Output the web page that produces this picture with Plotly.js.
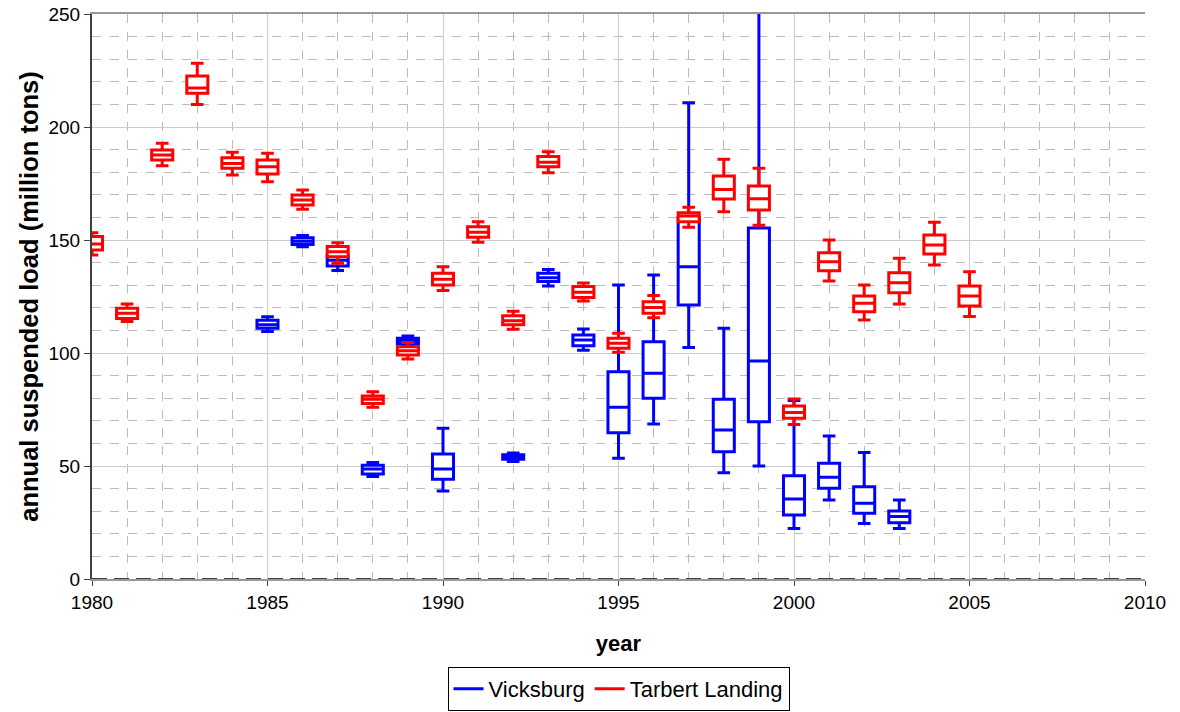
<!DOCTYPE html>
<html>
<head>
<meta charset="utf-8">
<script src="https://cdn.plot.ly/plotly-3.0.1.min.js"></script>
<style>
html,body{margin:0;padding:0;background:#fff;}
#chart{width:1180px;height:712px;}
</style>
</head>
<body>
<div id="chart"></div>
<script>
// ---- data ----
const vYears = [1985,1986,1987,1988,1989,1990,1992,1993,1994,1995,1996,1997,1998,1999,2000,2001,2002,2003];
const vLow   = [109.5,147,136.5,45.3,103,38.9,52,129.6,101.2,53.4,68.6,102.4,47,50,22.4,35,24.6,22.4];
const vQ1    = [111,148,138.5,46.5,104,44.1,53,131.6,103.2,64.7,80,121.2,56.3,69.6,28.3,40.1,29.1,24.9];
const vMed   = [112.5,149.5,141,48.7,105.2,48.7,54,133.3,105.8,76,91,138.2,65.9,96.5,35.4,45,33.5,27.6];
const vQ3    = [114.5,151,143,50.3,106.5,55.3,55,135.3,108,91.7,105,160,79.5,155.3,45.7,51.2,40.8,30.1];
const vHigh  = [116,152,145,51.5,107.5,66.7,55.7,137,110.6,130.1,134.5,210.7,110.9,280,79,63.3,56,35];

const tYears = [1980,1981,1982,1983,1984,1985,1986,1987,1988,1989,1990,1991,1992,1993,1994,1995,1996,1997,1998,1999,2000,2001,2002,2003,2004,2005];
const tLow   = [143.4,113.9,182.9,210,178.8,175.8,163.6,139.7,76,97.3,127.6,149,110.5,179.8,123,100.3,115.6,155.6,162.5,156.5,68.4,131.9,114.6,121.7,138.9,116.1];
const tQ1    = [145.6,115.3,185.4,214.9,181.7,179.2,165.5,142.6,77.7,99.1,130.1,151.2,112.5,182.4,124.6,102.1,117.6,158.1,168.1,163.3,71.1,136.4,118.3,126.7,143.8,120.8];
const tMed   = [148.2,117.6,187.6,217.3,183.9,182.4,167.7,144.8,79.5,101,132.6,153.4,114.3,184.4,126.9,104.3,120.1,160.6,172.4,168.3,73.7,140.4,122,131.1,147.8,125.2];
const tQ3    = [151.5,119.8,189.8,222.6,186.4,185.4,169.9,147.1,81,102.8,135.3,155.9,116.5,186.9,129.4,106.5,122.7,162.1,178.3,173.9,76.5,144.4,125.2,135.5,152.2,129.6];
const tHigh  = [153.2,121.7,192.8,228.2,188.8,188.4,172.1,148.8,82.9,104.6,138.2,158.1,118.5,189.1,131,108.7,125.4,164.5,185.7,181.7,79.6,150,130.1,141.9,157.8,136];

const seriesNames = ['Vicksburg','Tarbert Landing'];
const seriesColors = ['#0000ff','#ff0000'];

const FONT = '"Liberation Sans", Arial, sans-serif';

function boxTrace(name, color, x, lo, q1, med, q3, hi){
  return {
    type:'box', name:name, x:x,
    lowerfence:lo, q1:q1, median:med, q3:q3, upperfence:hi,
    line:{color:color, width:3}, fillcolor:'#ffffff',
    width:0.6, whiskerwidth:0.6, boxpoints:false,
    showlegend:false, hoverinfo:'skip'
  };
}
function legendTrace(name, color){
  return {type:'scatter', mode:'lines', name:name, x:[null], y:[null],
          line:{color:color, width:3}, hoverinfo:'skip'};
}

const data = [
  boxTrace(seriesNames[0], seriesColors[0], vYears, vLow, vQ1, vMed, vQ3, vHigh),
  boxTrace(seriesNames[1], seriesColors[1], tYears, tLow, tQ1, tMed, tQ3, tHigh),
  legendTrace(seriesNames[0], seriesColors[0]),
  legendTrace(seriesNames[1], seriesColors[1])
];

const layout = {
  width:1180, height:712,
  margin:{l:92, r:35, t:14, b:133, pad:0, autoexpand:false},
  paper_bgcolor:'#ffffff', plot_bgcolor:'#ffffff',
  font:{family:FONT, color:'#000000', size:19},
  boxmode:'overlay',
  showlegend:true,
  legend:{orientation:'h', x:0.5, xanchor:'center', yref:'container', y:0.0015, yanchor:'bottom',
          bordercolor:'#000000', borderwidth:1, font:{family:FONT, size:22, color:'#000'},
          itemwidth:30, tracegroupgap:0},
  xaxis:{
    range:[1980,2010], dtick:5, tick0:1980, fixedrange:true,
    showgrid:true, gridcolor:'#cccccc', gridwidth:1,
    minor:{dtick:1, showgrid:true, gridcolor:'#bbbbbb', griddash:'dash', gridwidth:1, ticks:''},
    showline:true, linecolor:'#999999', linewidth:2, mirror:true,
    ticks:'outside', ticklen:5, tickcolor:'#404040', tickwidth:1,
    tickfont:{family:FONT, size:19, color:'#000'},
    zeroline:false, automargin:false,
    title:{text:'year', font:{family:FONT, size:22, color:'#000', weight:'bold'}, standoff:24}
  },
  yaxis:{
    range:[0,250], dtick:50, tick0:0, fixedrange:true,
    showgrid:true, gridcolor:'#cccccc', gridwidth:1,
    minor:{dtick:10, showgrid:true, gridcolor:'#bbbbbb', griddash:'dash', gridwidth:1, ticks:''},
    showline:true, linecolor:'#404040', linewidth:2, mirror:false,
    ticks:'outside', ticklen:6, tickcolor:'#404040', tickwidth:1,
    tickfont:{family:FONT, size:19, color:'#000'},
    zeroline:false, automargin:false,
    title:{text:'annual suspended load (million tons)', font:{family:FONT, size:25.5, color:'#000', weight:'bold'}, standoff:3}
  },
  shapes:[
    {type:'line', xref:'paper', x0:0, x1:1, yref:'y', y0:0, y1:0, layer:'above',
     line:{color:'#404040', width:2, dash:'15px,7px'}}
  ]
};

Plotly.newPlot('chart', data, layout, {displayModeBar:false, staticPlot:true});
</script>
</body>
</html>
